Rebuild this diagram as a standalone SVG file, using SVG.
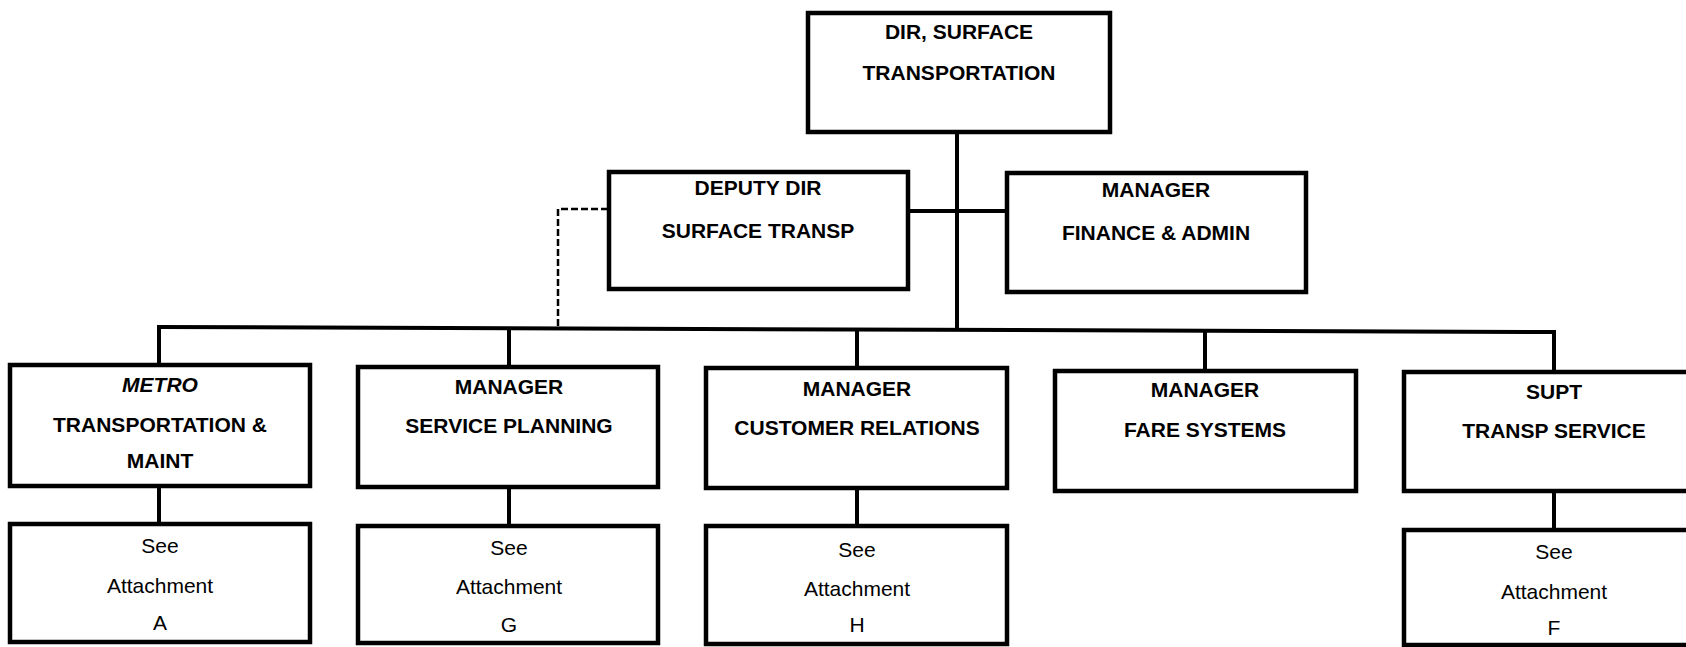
<svg xmlns="http://www.w3.org/2000/svg" width="1686" height="647" viewBox="0 0 1686 647">
  <style>
    .box { fill: #ffffff; stroke: #000000; stroke-width: 4.5; }
    .wire { fill: none; stroke: #000000; stroke-width: 4; }
    .dash { fill: none; stroke: #000000; stroke-width: 2.5; stroke-dasharray: 7 3; }
    .t { font-family: "Liberation Sans", Arial, sans-serif; font-size: 21px; text-anchor: middle; fill: #000000; }
    .b { font-weight: bold; }
    .i { font-style: italic; }
  </style>
  <rect width="1686" height="647" fill="#ffffff"/>

  <!-- connectors -->
  <g id="connectors">
    <line class="wire" x1="957" y1="132" x2="957" y2="330"/>
    <line class="wire" x1="908" y1="211" x2="1007" y2="211"/>
    <line class="wire" x1="157" y1="327" x2="1556" y2="332"/>
    <line class="wire" x1="159" y1="327" x2="159" y2="365"/>
    <line class="wire" x1="509" y1="328" x2="509" y2="367"/>
    <line class="wire" x1="857" y1="330" x2="857" y2="368"/>
    <line class="wire" x1="1205" y1="331" x2="1205" y2="371"/>
    <line class="wire" x1="1554" y1="332" x2="1554" y2="372"/>
    <line class="wire" x1="159" y1="486" x2="159" y2="524"/>
    <line class="wire" x1="509" y1="487" x2="509" y2="526"/>
    <line class="wire" x1="857" y1="488" x2="857" y2="526"/>
    <line class="wire" x1="1554" y1="491" x2="1554" y2="530"/>
    <path class="dash" d="M608,209 H558 V326"/>
  </g>

  <g id="dir-surface">
    <rect class="box" x="808" y="13" width="302" height="119"/>
    <text class="t b" x="959" y="39">DIR, SURFACE</text>
    <text class="t b" x="959" y="80">TRANSPORTATION</text>
  </g>

  <g id="deputy-dir">
    <rect class="box" x="609" y="172" width="299" height="117"/>
    <text class="t b" x="758" y="195">DEPUTY DIR</text>
    <text class="t b" x="758" y="238">SURFACE TRANSP</text>
  </g>

  <g id="finance-admin">
    <rect class="box" x="1007" y="173" width="299" height="119"/>
    <text class="t b" x="1156" y="197">MANAGER</text>
    <text class="t b" x="1156" y="240">FINANCE &amp; ADMIN</text>
  </g>

  <g id="metro">
    <rect class="box" x="10" y="365" width="300" height="121"/>
    <text class="t b i" x="160" y="392">METRO</text>
    <text class="t b" x="160" y="432">TRANSPORTATION &amp;</text>
    <text class="t b" x="160" y="468">MAINT</text>
  </g>

  <g id="service-planning">
    <rect class="box" x="358" y="367" width="300" height="120"/>
    <text class="t b" x="509" y="394">MANAGER</text>
    <text class="t b" x="509" y="433">SERVICE PLANNING</text>
  </g>

  <g id="customer-relations">
    <rect class="box" x="706" y="368" width="301" height="120"/>
    <text class="t b" x="857" y="396">MANAGER</text>
    <text class="t b" x="857" y="435">CUSTOMER RELATIONS</text>
  </g>

  <g id="fare-systems">
    <rect class="box" x="1055" y="371" width="301" height="120"/>
    <text class="t b" x="1205" y="397">MANAGER</text>
    <text class="t b" x="1205" y="437">FARE SYSTEMS</text>
  </g>

  <g id="transp-service">
    <rect class="box" x="1404" y="372" width="300" height="119"/>
    <text class="t b" x="1554" y="399">SUPT</text>
    <text class="t b" x="1554" y="438">TRANSP SERVICE</text>
  </g>

  <g id="attachment-a">
    <rect class="box" x="10" y="524" width="300" height="118"/>
    <text class="t" x="160" y="553">See</text>
    <text class="t" x="160" y="593">Attachment</text>
    <text class="t" x="160" y="630">A</text>
  </g>

  <g id="attachment-g">
    <rect class="box" x="358" y="526" width="300" height="117"/>
    <text class="t" x="509" y="555">See</text>
    <text class="t" x="509" y="594">Attachment</text>
    <text class="t" x="509" y="632">G</text>
  </g>

  <g id="attachment-h">
    <rect class="box" x="706" y="526" width="301" height="118"/>
    <text class="t" x="857" y="557">See</text>
    <text class="t" x="857" y="596">Attachment</text>
    <text class="t" x="857" y="632">H</text>
  </g>

  <g id="attachment-f">
    <rect class="box" x="1404" y="530" width="300" height="115"/>
    <text class="t" x="1554" y="559">See</text>
    <text class="t" x="1554" y="599">Attachment</text>
    <text class="t" x="1554" y="635">F</text>
  </g>
</svg>
